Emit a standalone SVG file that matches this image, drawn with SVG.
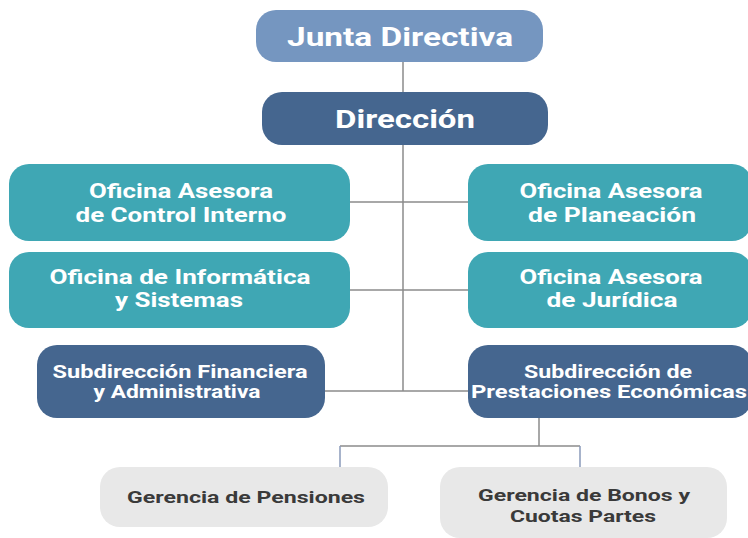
<svg xmlns="http://www.w3.org/2000/svg" width="748" height="538" viewBox="0 0 748 538">
<style>
.t{font-family:Roboto,"Liberation Sans",sans-serif;font-weight:700;fill:#ffffff;text-anchor:middle}
.big{font-size:25px}
.big2{font-size:26.5px}
.mid{font-size:19.5px}
.sm{font-size:18px}
.dk{fill:#3a3a3a;font-size:17px}
.c{stroke:#8c8c8c;stroke-width:1.5;fill:none}
.cb{stroke:#8a9bbb;stroke-width:1.5;fill:none}
</style>
<rect width="748" height="538" fill="#ffffff"/>
<g id="connectors">
<path class="c" d="M403 62V92M403 145V391M350 202H468M350 290H468M325 391H468M539 418V446M340 446H580"/>
<path class="cb" d="M340 446V467M580 446V467"/>
</g>
<g id="junta">
<rect x="256" y="10" width="287" height="52" rx="20" fill="#7596c0"/>
<text class="t big" x="400" y="46" textLength="226" lengthAdjust="spacingAndGlyphs">Junta Directiva</text>
</g>
<g id="direccion">
<rect x="262" y="92" width="286" height="53" rx="20" fill="#45668f"/>
<text class="t big2" x="405" y="128" textLength="140" lengthAdjust="spacingAndGlyphs">Dirección</text>
</g>
<g id="control-interno">
<rect x="9" y="164" width="341" height="77" rx="20" fill="#3fa7b4"/>
<text class="t mid" x="181" y="198" textLength="184" lengthAdjust="spacingAndGlyphs">Oficina Asesora</text>
<text class="t mid" x="181" y="222" textLength="211" lengthAdjust="spacingAndGlyphs">de Control Interno</text>
</g>
<g id="informatica">
<rect x="9" y="252" width="341" height="76" rx="20" fill="#3fa7b4"/>
<text class="t mid" x="180" y="284" textLength="261" lengthAdjust="spacingAndGlyphs">Oficina de Informática</text>
<text class="t mid" x="179" y="307" textLength="128" lengthAdjust="spacingAndGlyphs">y Sistemas</text>
</g>
<g id="sub-financiera">
<rect x="37" y="345" width="288" height="73" rx="20" fill="#45668f"/>
<text class="t sm" x="180" y="378" textLength="255" lengthAdjust="spacingAndGlyphs">Subdirección Financiera</text>
<text class="t sm" x="177" y="398" textLength="167" lengthAdjust="spacingAndGlyphs">y Administrativa</text>
</g>
<g id="planeacion">
<rect x="468" y="164" width="284" height="77" rx="20" fill="#3fa7b4"/>
<text class="t mid" x="611" y="198" textLength="183" lengthAdjust="spacingAndGlyphs">Oficina Asesora</text>
<text class="t mid" x="612" y="222" textLength="168" lengthAdjust="spacingAndGlyphs">de Planeación</text>
</g>
<g id="juridica">
<rect x="468" y="252" width="284" height="76" rx="20" fill="#3fa7b4"/>
<text class="t mid" x="611" y="284" textLength="183" lengthAdjust="spacingAndGlyphs">Oficina Asesora</text>
<text class="t mid" x="612" y="307" textLength="131" lengthAdjust="spacingAndGlyphs">de Jurídica</text>
</g>
<g id="sub-prestaciones">
<rect x="468" y="345" width="284" height="73" rx="20" fill="#45668f"/>
<text class="t sm" x="608" y="378" textLength="168" lengthAdjust="spacingAndGlyphs">Subdirección de</text>
<text class="t sm" x="609" y="398" textLength="276" lengthAdjust="spacingAndGlyphs">Prestaciones Económicas</text>
</g>
<g id="pensiones">
<rect x="100" y="467" width="288" height="60" rx="20" fill="#e8e8e8"/>
<text class="t dk" x="246" y="503" textLength="238" lengthAdjust="spacingAndGlyphs">Gerencia de Pensiones</text>
</g>
<g id="bonos">
<rect x="440" y="467" width="287" height="71" rx="20" fill="#e8e8e8"/>
<text class="t dk" x="584" y="501" textLength="212" lengthAdjust="spacingAndGlyphs">Gerencia de Bonos y</text>
<text class="t dk" x="583" y="522" textLength="146" lengthAdjust="spacingAndGlyphs">Cuotas Partes</text>
</g>
</svg>
